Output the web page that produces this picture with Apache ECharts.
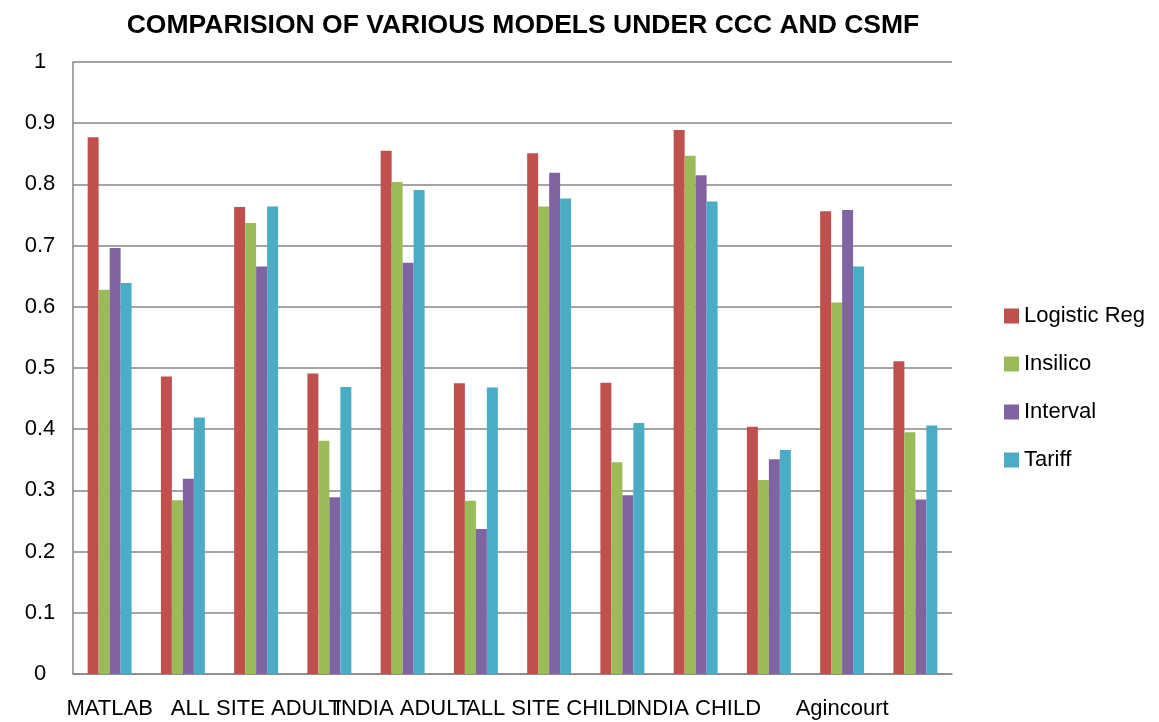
<!DOCTYPE html>
<html>
<head>
<meta charset="utf-8">
<title>Comparision of various models</title>
<script src="https://cdn.jsdelivr.net/npm/echarts@6/dist/echarts.min.js"></script>
<style>
  html, body { margin: 0; padding: 0; background: #fff; }
  #chart { width: 1159px; height: 722px; }
</style>
</head>
<body>
<div id="chart"></div>
<script>
  // every other category label is shown on the axis (as in the original sheet)
  var categories = ["MATLAB", "", "ALL SITE ADULT", "", "INDIA ADULT", "", "ALL SITE CHILD", "", "INDIA CHILD", "", "Agincourt", ""];
  var seriesNames = ["Logistic Reg", "Insilico", "Interval", "Tariff"];
  var logisticReg = [0.877, 0.486, 0.763, 0.491, 0.855, 0.475, 0.851, 0.476, 0.889, 0.404, 0.756, 0.511];
  var insilico = [0.628, 0.284, 0.737, 0.381, 0.804, 0.283, 0.764, 0.346, 0.847, 0.317, 0.607, 0.395];
  var intervalVals = [0.696, 0.319, 0.666, 0.289, 0.672, 0.237, 0.819, 0.292, 0.815, 0.351, 0.758, 0.285];
  var tariff = [0.639, 0.419, 0.764, 0.469, 0.791, 0.468, 0.777, 0.410, 0.772, 0.366, 0.666, 0.406];
  var colors = ["#C0504D", "#9BBB59", "#8064A2", "#4BACC6"];

  var font = "'Liberation Sans', Arial, sans-serif";
  var chart = echarts.init(document.getElementById("chart"));

  var allData = [logisticReg, insilico, intervalVals, tariff];
  var series = allData.map(function (d, i) {
    return {
      name: seriesNames[i],
      type: "bar",
      data: d,
      barGap: "0%",
      barCategoryGap: "40%",
      itemStyle: { color: colors[i] }
    };
  });

  chart.setOption({
    animation: false,
    color: colors,
    title: {
      text: "COMPARISION OF VARIOUS MODELS UNDER CCC AND CSMF",
      left: 518,
      top: 7,
      textAlign: "center",
      textStyle: {
        fontFamily: font,
        fontWeight: "bold",
        fontSize: 26.5,
        color: "#000"
      }
    },
    legend: {
      orient: "vertical",
      left: 1004,
      top: 305,
      padding: 0,
      icon: "rect",
      itemWidth: 15,
      itemHeight: 15,
      itemGap: 26,
      data: seriesNames,
      textStyle: { fontFamily: font, fontSize: 22, color: "#000" }
    },
    grid: {
      left: 73,
      right: 207,
      top: 62,
      bottom: 48,
      outerBoundsMode: "none"
    },
    xAxis: {
      type: "category",
      data: categories,
      axisLine: { lineStyle: { color: "#868686", width: 1.5 } },
      axisTick: { show: false },
      axisLabel: {
        interval: 1,
        margin: 24,
        fontFamily: font,
        fontSize: 22,
        color: "#000"
      }
    },
    yAxis: {
      type: "value",
      min: 0,
      max: 1,
      interval: 0.1,
      axisLine: { show: true, lineStyle: { color: "#868686", width: 1.5 } },
      axisTick: { show: false },
      splitLine: { lineStyle: { color: "#868686", width: 1.5 } },
      axisLabel: {
        align: "center",
        margin: 33,
        fontFamily: font,
        fontSize: 22,
        color: "#000"
      }
    },
    series: series
  });
</script>
</body>
</html>
